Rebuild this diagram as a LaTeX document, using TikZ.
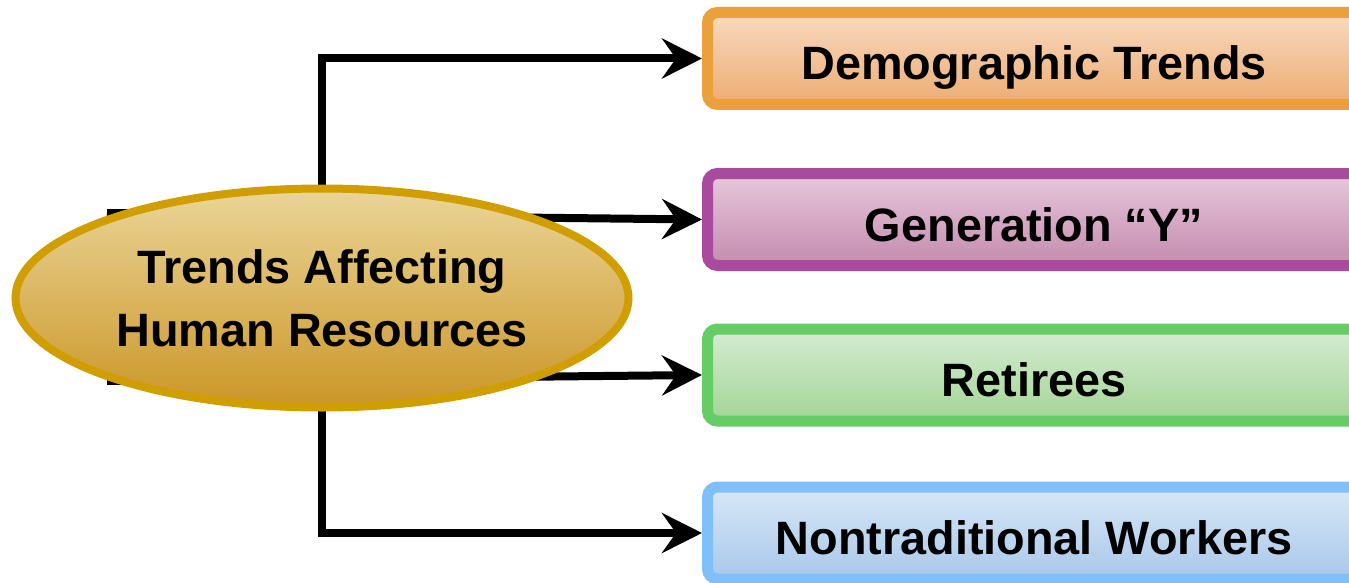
\documentclass[tikz,border=0pt]{standalone}
\usepackage{fontspec}
\setmainfont{Liberation Sans}
\usetikzlibrary{shapes.geometric,arrows.meta,backgrounds}

\definecolor{goldline}{HTML}{D09E00}
\definecolor{goldtop}{HTML}{EAD598}
\definecolor{goldbot}{HTML}{CB9627}
\definecolor{orline}{HTML}{EBA13B}
\definecolor{ortop}{HTML}{F8DAC0}
\definecolor{orbot}{HTML}{EDAC72}
\definecolor{puline}{HTML}{A94A9E}
\definecolor{putop}{HTML}{E8C8DC}
\definecolor{pubot}{HTML}{C38BAD}
\definecolor{grline}{HTML}{66CC66}
\definecolor{grtop}{HTML}{D6ECD2}
\definecolor{grbot}{HTML}{A2D595}
\definecolor{blline}{HTML}{7FBFFA}
\definecolor{bltop}{HTML}{D8E7F6}
\definecolor{blbot}{HTML}{A8C8EA}

\tikzset{
  label font/.style={font=\fontsize{46.8}{63}\selectfont\bfseries},
  topicbox/.style n args={3}{rectangle, rounded corners=10pt, line width=11pt,
    draw=#1, top color=#2, bottom color=#3,
    minimum width=653pt, minimum height=92pt, label font,
    text height=43pt, text depth=0pt},
  link/.style={line width=8pt, -{Stealth[length=40pt,width=40pt,inset=14pt]}},
}

\begin{document}
\begin{tikzpicture}[x=1pt,y=-1pt]
  \useasboundingbox (0,0) rectangle (1349,583);
  \clip (0,0) rectangle (1349,583);

  % central topic
  \node[ellipse, draw=goldline, line width=8pt, top color=goldtop, bottom color=goldbot,
        minimum width=613pt, minimum height=219pt, inner sep=0pt, align=center,
        label font] (hub) at (322,298) {Trends Affecting\\Human Resources};

  % the four trend boxes
  \node[topicbox={orline}{ortop}{orbot}] (demo) at (1034,58.5) {Demographic Trends};
  \node[topicbox={puline}{putop}{pubot}] (geny) at (1034,219.5) {Generation “Y”};
  \node[topicbox={grline}{grtop}{grbot}] (reti) at (1034,375) {Retirees};
  \node[topicbox={blline}{bltop}{blbot}] (nontr) at (1034,533) {Nontraditional Workers};

  \coordinate (upstart) at (107,213);
  \coordinate (lowstart) at (107,381);

  % connectors run behind the ellipse
  \begin{scope}[on background layer]
    \draw[link] (hub.center) |- (demo.west);
    \draw[link] (upstart) -- (geny.west);
    \draw[link] (lowstart) -- (reti.west);
    \draw[link] (hub.center) |- (nontr.west);
  \end{scope}
\end{tikzpicture}
\end{document}
